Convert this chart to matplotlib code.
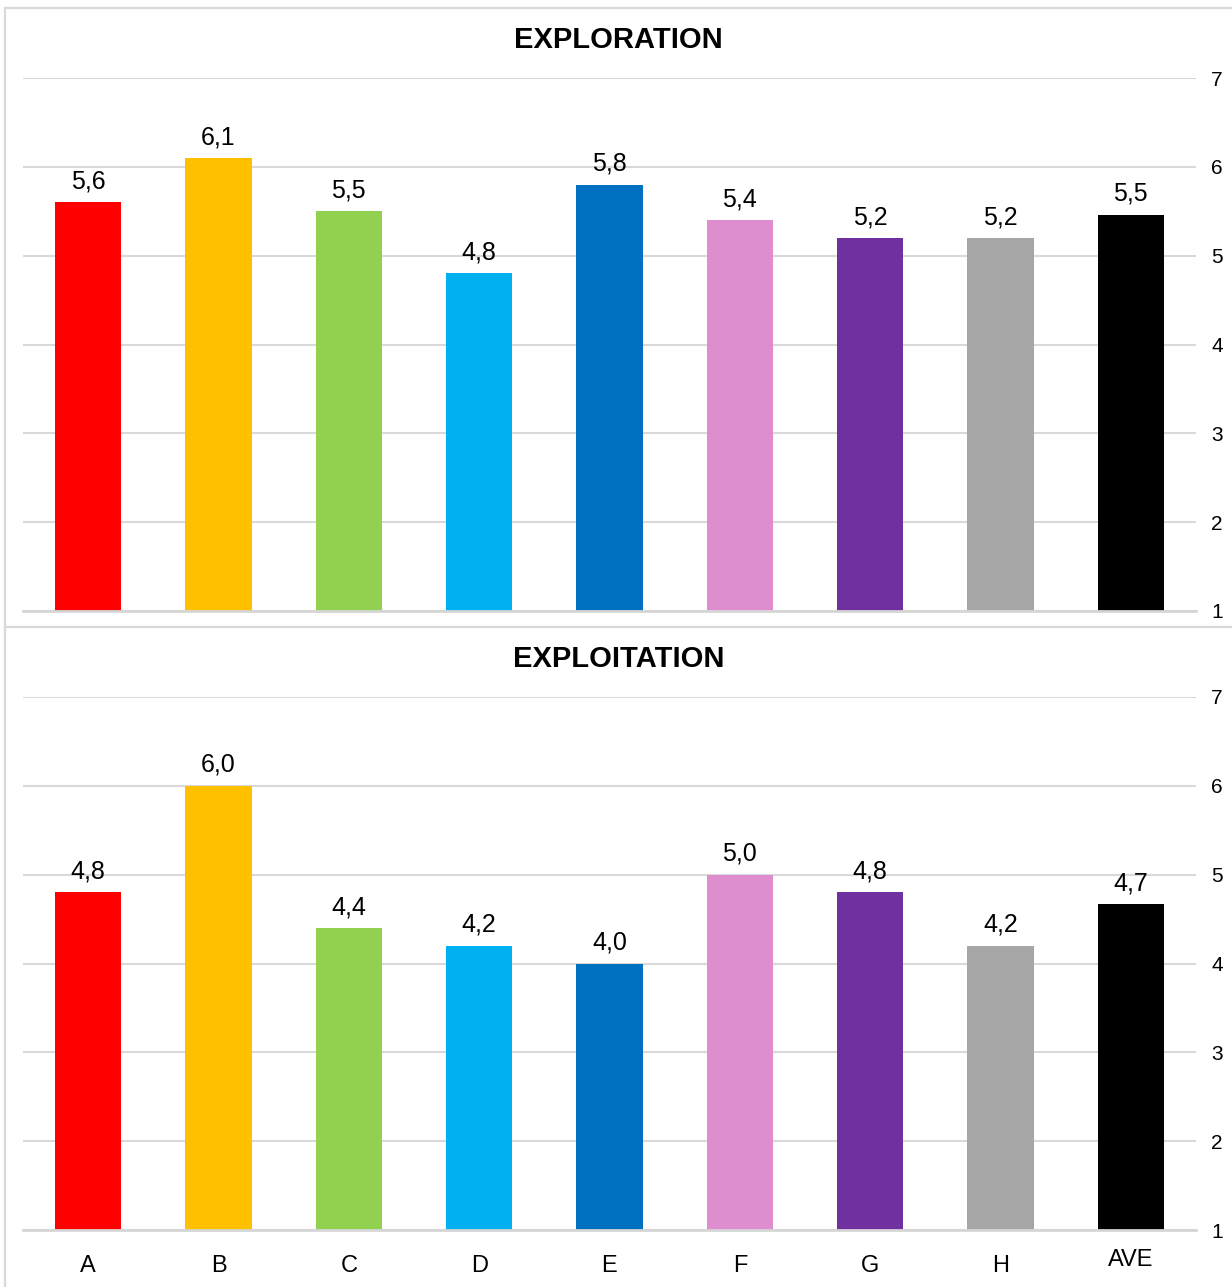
import matplotlib.pyplot as plt
from matplotlib.lines import Line2D

plt.rcParams['font.family'] = ['Liberation Sans', 'DejaVu Sans']

categories = ["A", "B", "C", "D", "E", "F", "G", "H", "AVE"]
exploration = [5.6, 6.1, 5.5, 4.8, 5.8, 5.4, 5.2, 5.2, 5.46]
exploitation = [4.8, 6.0, 4.4, 4.2, 4.0, 5.0, 4.8, 4.2, 4.67]
colors = ["#FF0000", "#FFC000", "#92D050", "#00B0F0", "#0070C0",
          "#DE8ECE", "#7030A0", "#A6A6A6", "#000000"]
yticks = [1, 2, 3, 4, 5, 6, 7]

GRID = "#D9D9D9"


def draw_panel(ax, values, title, show_x):
    x = list(range(len(categories)))
    heights = [v - 1 for v in values]
    ax.bar(x, heights, bottom=1, width=0.51, color=colors, zorder=2)
    for xi, v in zip(x, values):
        ax.text(xi, v + 0.1, f"{v:.1f}".replace(".", ","),
                ha="center", va="bottom", fontsize=18)
    ax.set_xlim(-0.5, len(categories) - 0.5)
    ax.set_ylim(1, 7)
    ax.set_yticks(yticks)
    ax.yaxis.tick_right()
    ax.tick_params(axis="y", length=0, pad=11, labelsize=15)
    ax.grid(axis="y", color=GRID, linewidth=1.5, zorder=0)
    for s in ["top", "left", "right"]:
        ax.spines[s].set_visible(False)
    ax.spines["bottom"].set_color("#D6D6D6")
    ax.spines["bottom"].set_linewidth(2)
    ax.set_xticks(x)
    if show_x:
        ax.set_xticklabels(categories)
        ax.tick_params(axis="x", length=0, pad=18, labelsize=17)
        ax.xaxis.get_major_ticks()[-1].set_pad(14)
    else:
        ax.set_xticklabels([])
        ax.tick_params(axis="x", length=0)
    # title sits ~30 px above the top gridline, centred on the whole chart box
    ax.text(0.5 + 9 / 1173, 1 + 30 / 533, title, transform=ax.transAxes,
            ha="center", va="baseline", fontsize=21, fontweight="bold")


fig = plt.figure(figsize=(12.32, 12.87), dpi=100)

ax1 = fig.add_axes([23 / 1232, 1 - 611 / 1287, 1173 / 1232, 533 / 1287])
draw_panel(ax1, exploration, "EXPLORATION", False)

ax2 = fig.add_axes([23 / 1232, 1 - 1230 / 1287, 1173 / 1232, 533 / 1287])
draw_panel(ax2, exploitation, "EXPLOITATION", True)

# chart borders
W, H = 1232, 1287
for (x0, y0, x1, y1) in [(5, 8, W, 8), (5, 8, 5, 627), (5, 627, W, 627), (5, 627, 5, H)]:
    fig.add_artist(Line2D([x0 / W, x1 / W], [1 - y0 / H, 1 - y1 / H],
                          color=GRID, linewidth=1.6))

fig.savefig("out.png", dpi=100)
